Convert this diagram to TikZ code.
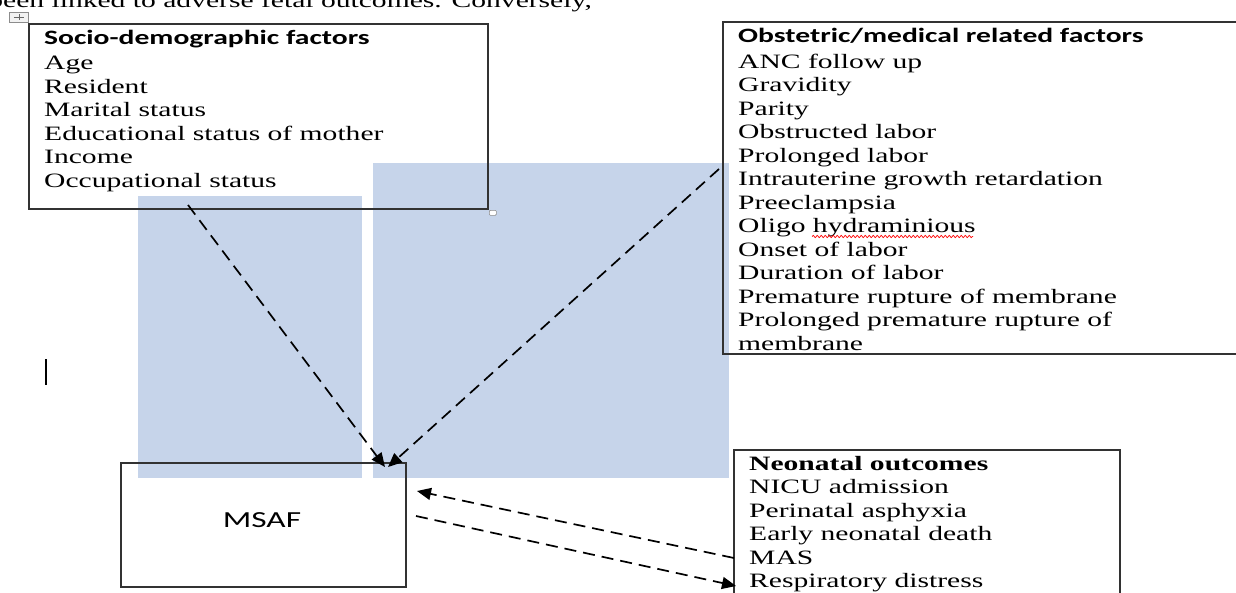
\documentclass[tikz,border=0pt]{standalone}
\usepackage{fontspec}
\setmainfont{Liberation Serif}[FakeStretch=1.45]
\newfontfamily\calib{Carlito}[FakeStretch=1.45]
\usetikzlibrary{arrows.meta,decorations.pathmorphing,calc}
\definecolor{bluefill}{RGB}{198,212,234}
\definecolor{boxline}{RGB}{50,50,50}
\begin{document}
\begin{tikzpicture}[x=1pt,y=-1pt,
  box/.style={draw=boxline, line width=1.3pt, inner sep=0pt, outer sep=0pt, anchor=north west},
  shade/.style={fill=bluefill, draw=none, inner sep=0pt, outer sep=0pt, anchor=north west},
  conn/.style={line width=1.7pt, dash pattern=on 12pt off 7pt, -{Triangle[length=14pt,width=12pt]}},
  txt/.style={anchor=base west, inner sep=0pt, font=\fontsize{20.4pt}{23.5pt}\selectfont},
  ttl/.style={anchor=base west, inner sep=0pt, font=\calib\bfseries\fontsize{20.4pt}{23.5pt}\selectfont},
  ttlserif/.style={anchor=base west, inner sep=0pt, font=\bfseries\fontsize{20.4pt}{23.5pt}\selectfont},
  msaftxt/.style={inner sep=0pt, font=\calib\fontsize{23pt}{27pt}\selectfont}]
\useasboundingbox (0,0) rectangle (1236,592);
\clip (0,0) rectangle (1236,592);

% top partial text line (cut by the upper edge, as in the reference)
\node[txt, anchor=base east] (toptext) at (592,7) {been linked to adverse fetal outcomes. Conversely,};

% blue shaded rectangles
\node[shade, minimum width=224pt, minimum height=282pt] (blueL) at (138,196) {};
\node[shade, minimum width=356pt, minimum height=315pt] (blueR) at (373,163) {};

% Word handles
\node[draw=black!45, fill=black!5, line width=0.6pt, anchor=north west, minimum width=19pt, minimum height=10pt, inner sep=0pt] (movehandle) at (9,12) {};
\draw[black!60, line width=0.6pt] ($(movehandle.center)+(-5,0)$) -- ($(movehandle.center)+(5,0)$);
\draw[black!60, line width=0.6pt] ($(movehandle.center)+(0,-3)$) -- ($(movehandle.center)+(0,3)$);
\node[draw=black!45, fill=white, line width=0.6pt, rounded corners=1pt, anchor=north west, minimum width=7pt, minimum height=5pt, inner sep=0pt] (sizehandle) at (489,210) {};

% boxes
\node[box, minimum width=459pt, minimum height=185pt] (socio) at (29,24) {};
\node[box, minimum width=530pt, minimum height=332pt] (obst) at (723,22) {};
\node[box, minimum width=285pt, minimum height=124pt] (msaf) at (121,463) {};
\node[box, minimum width=386pt, minimum height=160pt] (neo) at (734,450) {};

% socio-demographic text
\node[ttl] (sTitle) at (44,44) {Socio-demographic factors};
\foreach \t [count=\i] in {Age,Resident,Marital status,Educational status of mother,Income,Occupational status}
  \node[txt] (s\i) at (44,{69.5+23.5*(\i-1)}) {\t};

% obstetric text
\node[ttl] (oTitle) at (738,42) {Obstetric/medical related factors};
\foreach \t [count=\i] in {ANC follow up,Gravidity,Parity,Obstructed labor,Prolonged labor,Intrauterine growth retardation,Preeclampsia,Oligo hydraminious,Onset of labor,Duration of labor,Premature rupture of membrane,Prolonged premature rupture of,membrane}
  \node[txt] (o\i) at (738,{68+23.5*(\i-1)}) {\t};
\draw[red, line width=0.7pt, decorate, decoration={snake, amplitude=1.1pt, segment length=4pt}] (812,236.5) -- (973,236.5);

% neonatal text
\node[ttlserif] (nTitle) at (749,470) {Neonatal outcomes};
\foreach \t [count=\i] in {NICU admission,Perinatal asphyxia,Early neonatal death,MAS,Respiratory distress}
  \node[txt] (n\i) at (749,{493.5+23.5*(\i-1)}) {\t};

% MSAF
\node[msaftxt] (msafLabel) at (262,520.5) {MSAF};

% text cursor
\draw[line width=1.8pt] (46,359) -- (46,385);

% connector anchor points
\coordinate (sOut) at (188,205);
\coordinate (oOut) at (719,169);
\coordinate (mIn1) at (385,467);
\coordinate (mIn2) at (388,467);
\coordinate (nOut) at (734,558);
\coordinate (mIn3) at (417,491);
\coordinate (mOut) at (416,516);
\coordinate (nIn) at (736,586);

\draw[conn] (sOut) -- (mIn1);
\draw[conn] (oOut) -- (mIn2);
\draw[conn] (nOut) -- (mIn3);
\draw[conn] (mOut) -- (nIn);
\end{tikzpicture}
\end{document}
